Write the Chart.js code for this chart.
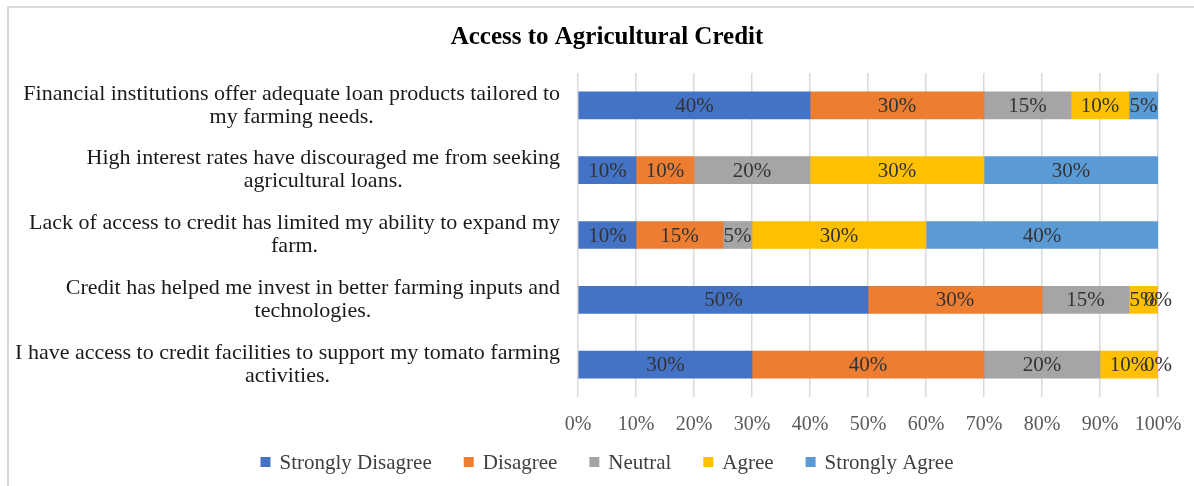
<!DOCTYPE html>
<html>
<head>
<meta charset="utf-8">
<title>Access to Agricultural Credit</title>
<script src="https://cdn.jsdelivr.net/npm/chart.js@4"></script>
<style>
  html, body { margin: 0; padding: 0; background: #fff; }
  #wrap { position: relative; width: 1194px; height: 486px; }
</style>
</head>
<body>
<div id="wrap"><canvas id="chart" width="1194" height="486"></canvas></div>
<script>
const statements = [
  ["Financial institutions offer adequate loan products tailored to", "my farming needs."],
  ["High interest rates have discouraged me from seeking", "agricultural loans."],
  ["Lack of access to credit has limited my ability to expand my", "farm."],
  ["Credit has helped me invest in better farming inputs and", "technologies."],
  ["I have access to credit facilities to support my tomato farming", "activities."],
]

const responses = ["Strongly Disagree", "Disagree", "Neutral", "Agree", "Strongly Agree"]

// share of respondents (%) per response, same order as statements
const stronglyDisagree = [40, 10, 10, 50, 30]
const disagree = [30, 10, 15, 30, 40]
const neutral = [15, 20, 5, 15, 20]
const agree = [10, 30, 30, 5, 10]
const stronglyAgree = [5, 30, 40, 0, 0]

const xTicks = [0, 10, 20, 30, 40, 50, 60, 70, 80, 90, 100]

const colors = ["#4472C4", "#ED7D31", "#A5A5A5", "#FFC000", "#5B9BD5"]
const serif = "'Liberation Serif', 'Times New Roman', serif"

// thin grey frame along the top and left edge
const frame = {
  id: "frame",
  beforeDraw(chart) {
    const { ctx } = chart
    ctx.save()
    ctx.strokeStyle = "#d9d9d9"
    ctx.lineWidth = 2
    ctx.beginPath()
    ctx.moveTo(8, chart.height)
    ctx.lineTo(8, 7)
    ctx.lineTo(chart.width, 7)
    ctx.stroke()
    ctx.restore()
  },
}

// category labels: each block right-aligned to the axis, its lines centred on each other
const categoryLabels = {
  id: "categoryLabels",
  afterDraw(chart) {
    const { ctx } = chart
    const yScale = chart.scales.y
    const right = chart.chartArea.left - 18
    const lineHeight = 23
    ctx.save()
    ctx.font = `22px ${serif}`
    ctx.fillStyle = "#1a1a1a"
    ctx.textAlign = "center"
    ctx.textBaseline = "middle"
    statements.forEach((lines, i) => {
      const y = yScale.getPixelForTick(i)
      const widest = Math.max(...lines.map(l => ctx.measureText(l).width))
      const cx = right - widest / 2
      const top = y - (lines.length - 1) * lineHeight / 2
      lines.forEach((line, j) => ctx.fillText(line, cx, top + j * lineHeight))
    })
    ctx.restore()
  },
}

// value labels in the middle of every segment (zero segments too)
const valueLabels = {
  id: "valueLabels",
  afterDatasetsDraw(chart) {
    const { ctx } = chart
    ctx.save()
    ctx.font = `21px ${serif}`
    ctx.fillStyle = "#333333"
    ctx.textAlign = "center"
    ctx.textBaseline = "middle"
    chart.data.datasets.forEach((ds, di) => {
      const meta = chart.getDatasetMeta(di)
      meta.data.forEach((bar, i) => {
        const cx = (bar.x + bar.base) / 2
        ctx.fillText(ds.data[i] + "%", cx, bar.y + 1)
      })
    })
    ctx.restore()
  },
}

// single-row legend under the axis: small square + name, fixed gap between entries
const legendRow = {
  id: "legendRow",
  afterDraw(chart) {
    const { ctx } = chart
    const box = 10
    const textGap = 9
    const itemGap = 32
    const y = 462
    ctx.save()
    ctx.font = `21px ${serif}`
    ctx.textBaseline = "middle"
    ctx.textAlign = "left"
    const items = chart.data.datasets.map(ds => ({
      label: ds.label,
      color: ds.backgroundColor,
      width: box + textGap + ctx.measureText(ds.label).width,
    }))
    const total = items.reduce((sum, it) => sum + it.width, 0) + itemGap * (items.length - 1)
    let x = 607 - total / 2
    items.forEach(it => {
      ctx.fillStyle = it.color
      ctx.fillRect(x, y - box / 2, box, box)
      ctx.fillStyle = "#404040"
      ctx.fillText(it.label, x + box + textGap, y + 1)
      x += it.width + itemGap
    })
    ctx.restore()
  },
}

const seriesValues = [stronglyDisagree, disagree, neutral, agree, stronglyAgree]

new Chart(document.getElementById("chart"), {
  type: "bar",
  data: {
    labels: statements,
    datasets: responses.map((name, i) => ({
      label: name,
      data: seriesValues[i],
      backgroundColor: colors[i],
      borderWidth: 0,
      barThickness: 27,
    })),
  },
  options: {
    indexAxis: "y",
    responsive: false,
    animation: false,
    layout: { padding: { left: 56, right: 36, top: 11, bottom: 33 } },
    scales: {
      x: {
        stacked: true,
        min: 0,
        max: 100,
        afterBuildTicks: scale => { scale.ticks = xTicks.map(v => ({ value: v })) },
        afterFit: scale => {
          scale.paddingLeft = 0
          scale.paddingRight = 0
        },
        border: { display: false },
        grid: { color: "#d9d9d9", lineWidth: 1.5, drawTicks: false },
        ticks: {
          color: "#595959",
          padding: 16,
          font: { family: serif, size: 20 },
          callback: v => v + "%",
        },
      },
      y: {
        stacked: true,
        border: { display: false },
        grid: { display: false, drawTicks: false },
        ticks: { display: false },
        afterFit: scale => { scale.width = 522 },
      },
    },
    plugins: {
      title: {
        display: true,
        text: "Access to Agricultural Credit",
        color: "#000",
        font: { family: serif, size: 25, weight: "bold" },
        padding: { top: 12, bottom: 20 },
      },
      legend: { display: false },
      tooltip: { enabled: false },
    },
  },
  plugins: [frame, categoryLabels, valueLabels, legendRow],
})
</script>
</body>
</html>
